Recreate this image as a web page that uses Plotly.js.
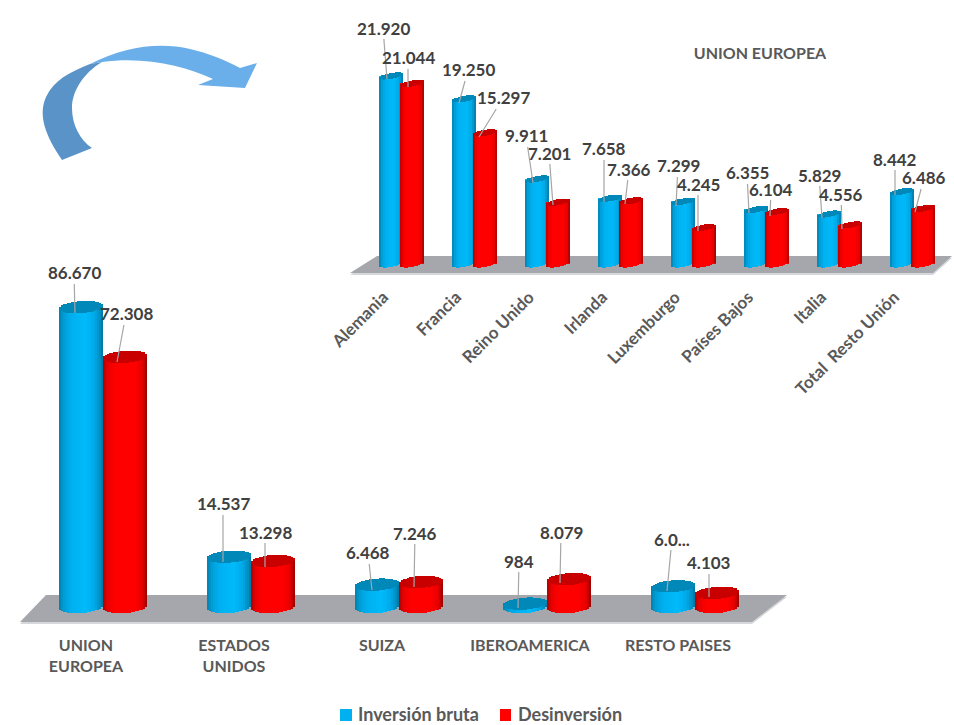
<!DOCTYPE html>
<html><head><meta charset="utf-8">
<script src="https://cdn.plot.ly/plotly-3.0.1.min.js"></script>
<style>html,body{margin:0;padding:0;background:#fff}</style></head>
<body><div id="chart" style="width:954px;height:725px"></div>
<script>
// ---- data ----
const regionCats = ['UNION<br>EUROPEA','ESTADOS<br>UNIDOS','SUIZA','IBEROAMERICA','RESTO PAISES'];
const seriesNames = ['Inversión bruta','Desinversión'];
const regionBruta = [86670,14537,6468,984,6000];
const regionDesinv = [72308,13298,7246,8079,4103];
const regionBrutaLabels = ['86.670','14.537','6.468','984','6.0...'];
const regionDesinvLabels = ['72.308','13.298','7.246','8.079','4.103'];
const ueCats = ['Alemania','Francia','Reino Unido','Irlanda','Luxemburgo','Países Bajos','Italia','Total\u00a0 Resto Unión'];
const ueBruta = [21920,19250,9911,7658,7299,6355,5829,8442];
const ueDesinv = [21044,15297,7201,7366,4245,6104,4556,6486];
const ueBrutaLabels = ['21.920','19.250','9.911','7.658','7.299','6.355','5.829','8.442'];
const ueDesinvLabels = ['21.044','15.297','7.201','7.366','4.245','6.104','4.556','6.486'];

// ---- layout geometry (pixels) ----
const W=954,H=725;
const px=x=>x/W, py=y=>1-y/H;
const FONT='Lato, "Open Sans", sans-serif';
const low={x0:29,x1:769,yTop:260,yBot:630,zero:607,scale:3.46/1000,pitch:148,barW:44,sep:22,ry:6,tilt:1.5,strips:22,xa:'x',ya:'y'};
const up ={x0:365,x1:949,yTop:16,yBot:276,zero:264,scale:8.58/1000,pitch:73,barW:24.5,sep:10.5,ry:3,tilt:2,strips:12,xa:'x2',ya:'y2'};

const shadeBlue=[[-1,[0,128,175]],[-.8,[0,156,212]],[-.45,[0,176,240]],[.2,[0,186,250]],[.6,[0,170,232]],[.88,[0,140,190]],[1,[0,112,155]]];
const shadeRed =[[-1,[175,0,0]],[-.8,[232,0,0]],[-.45,[255,0,0]],[.45,[255,0,0]],[.75,[232,0,0]],[.92,[180,0,0]],[1,[135,0,0]]];
function shade(st,u){for(let i=1;i<st.length;i++){if(u<=st[i][0]){const a=st[i-1],b=st[i],t=(u-a[0])/(b[0]-a[0]);
  return 'rgb('+a[1].map((c,j)=>Math.round(c+(b[1][j]-c)*t)).join(',')+')';}}return 'rgb('+st[st.length-1][1].join(',')+')';}

const traces=[];
function cylinders(g,vals,side,name,base,st,cap){
  const xs=vals.map((_,i)=>i);
  const cw=g.barW/g.pitch, c=side*g.sep/g.pitch, un=1/g.scale;
  traces.push({type:'bar',name:name,x:xs,y:vals,width:cw,offset:c-cw/2,xaxis:g.xa,yaxis:g.ya,
    marker:{color:base,line:{width:0}},showlegend:false,hoverinfo:'y+name'});
  const sw=cw/g.strips;
  for(let k=0;k<g.strips;k++){
    const u=-1+(2*k+1)/g.strips, front=g.ry*Math.sqrt(1-u*u), t=g.tilt*u;
    const off=c-cw/2+k*sw, b0=(-front+t)*un;
    traces.push({type:'bar',x:xs,y:vals,base:xs.map(()=>b0),width:sw,offset:off,xaxis:g.xa,yaxis:g.ya,
      marker:{color:shade(st,u),line:{width:0}},showlegend:false,hoverinfo:'skip'});
    traces.push({type:'bar',x:xs,y:xs.map(()=>2*front*un),base:vals.map(v=>v+b0),width:sw,offset:off,xaxis:g.xa,yaxis:g.ya,
      marker:{color:cap,line:{width:0}},showlegend:false,hoverinfo:'skip'});
  }
}
cylinders(low,regionBruta,-1,seriesNames[0],'#00b0f0',shadeBlue,'#0088b8');
cylinders(low,regionDesinv,1,seriesNames[1],'#ff0000',shadeRed,'#c80000');
cylinders(up,ueBruta,-1,seriesNames[0],'#00b0f0',shadeBlue,'#0088b8');
cylinders(up,ueDesinv,1,seriesNames[1],'#ff0000',shadeRed,'#c80000');

// leader targets and label centres, in pixels
const lowBrutaPos=[[75,313,74,273],[223,562,223,504],[372,590,368,553],[518,608,519,561],[667,591,672,539]];
const lowDesinvPos=[[117,362,126,314],[265,567,265,532],[414,587,415,533],[560,583,561,532],[709,597,709,563]];
const upBrutaPos=[[387,79,383,28],[459,103,468,70],[533,183,526,136],[604,202,604,149],[676,206,678,166],[749,213,747,173],[822,218,819,175],[895,195,895,159]];
const upDesinvPos=[[408,87,408,58],[479,137,503,98],[553,205,549,153],[625,204,629,169],[698,231,698,184],[770,216,771,189],[842,229,841,194],[915,212,924,178]];
const annotations=[];
function labels(g,vals,side,texts,pos){
  const centre=i=>g.x0+(i+.5)*g.pitch+side*g.sep;
  vals.forEach((v,i)=>{const p=pos[i], bx=centre(i), by=g.zero-v*g.scale;
    annotations.push({x:i+side*g.sep/g.pitch,y:v,xref:g.xa,yref:g.ya,xshift:p[0]-bx,yshift:by-p[1],
      text:texts[i],showarrow:true,arrowhead:0,arrowwidth:1.2,arrowcolor:'#a6a6a6',standoff:0,
      ax:p[2]-p[0],ay:p[3]-p[1],axref:'pixel',ayref:'pixel',
      font:{family:FONT,size:17,color:'#404040',weight:700},borderpad:0,captureevents:false});
  });
}
labels(low,regionBruta,-1,regionBrutaLabels,lowBrutaPos);
labels(low,regionDesinv,1,regionDesinvLabels,lowDesinvPos);
labels(up,ueBruta,-1,ueBrutaLabels,upBrutaPos);
labels(up,ueDesinv,1,ueDesinvLabels,upDesinvPos);

// legend entries placed beside their swatches
[[357,0],[517,1]].forEach(([lx,i])=>annotations.push({xref:'paper',yref:'paper',x:px(lx),y:py(714),xanchor:'left',yanchor:'middle',
  showarrow:false,text:seriesNames[i],borderpad:0,font:{family:FONT,size:18,color:'#595959',weight:700}}));

// decoration: floors, legend swatches and curved arrow, in page pixels
const pathOf=s=>s.replace(/(-?\d+(\.\d+)?),(-?\d+(\.\d+)?)/g,(m,a,_,b)=>px(+a).toFixed(5)+','+py(+b).toFixed(5));
const deco=(s,color)=>({type:'path',xref:'paper',yref:'paper',layer:'below',path:pathOf(s),fillcolor:color,line:{width:0}});
const shapes=[
  deco('M20,624 L46,597 L787,597 L752,624 Z','#d6d7da'),
  deco('M20,622 L46,595 L787,595 L752,622 Z','#a5a7ad'),
  deco('M350,275 L377,258 L952,258 L933,275 Z','#d6d7da'),
  deco('M350,273 L377,256 L952,256 L933,273 Z','#a5a7ad'),
  deco('M90,64 C125,46 160,42 190,49 C208,53 225,60 240,68 L257,63 L245,88 L198,85 L213,79 C185,66 145,56 102,62 Z','#6aaeea'),
  deco('M62,160 C45,135 38,115 46,97 C54,80 70,72 90,64 L102,62 C85,72 72,90 72,108 C72,125 80,140 92,148 Z','#5a93c8'),
  deco('M340,709 L352,709 L352,721 L340,721 Z','#00b0f0'),
  deco('M500,709 L511,709 L511,721 L500,721 Z','#ff0000')
];

const axisBase={showgrid:false,zeroline:false,showline:false,ticks:''};
const layout={
  width:W,height:H,margin:{l:0,r:0,t:0,b:0,pad:0,autoexpand:false},paper_bgcolor:'#fff',plot_bgcolor:'rgba(0,0,0,0)',
  barmode:'overlay',bargap:0,hovermode:'closest',showlegend:false,
  title:{text:'<b>UNION EUROPEA</b>',x:760/W,y:py(53),xanchor:'center',yanchor:'middle',xref:'paper',yref:'paper',
    font:{family:FONT,size:16,color:'#595959'}},
  xaxis:{...axisBase,domain:[px(low.x0),px(low.x1)],range:[-.5,4.5],anchor:'y',tickmode:'array',
    tickvals:regionCats.map((_,i)=>i-.115),ticktext:regionCats,tickangle:0,ticklabelstandoff:4,
    tickfont:{family:FONT,size:16,color:'#595959',weight:700}},
  yaxis:{...axisBase,visible:false,domain:[py(low.yBot),py(low.yTop)],
    range:[(low.zero-low.yBot)/low.scale,(low.zero-low.yTop)/low.scale]},
  xaxis2:{...axisBase,domain:[px(up.x0),px(up.x1)],range:[-.5,7.5],anchor:'y2',tickmode:'array',
    tickvals:ueCats.map((_,i)=>i-.25),ticktext:ueCats,tickangle:-45,ticklabelstandoff:7,
    tickfont:{family:FONT,size:17,color:'#595959',weight:700}},
  yaxis2:{...axisBase,visible:false,domain:[py(up.yBot),py(up.yTop)],
    range:[(up.zero-up.yBot)/up.scale,(up.zero-up.yTop)/up.scale]},
  annotations,shapes
};
Plotly.newPlot('chart',traces,layout,{displayModeBar:false});
</script></body></html>
